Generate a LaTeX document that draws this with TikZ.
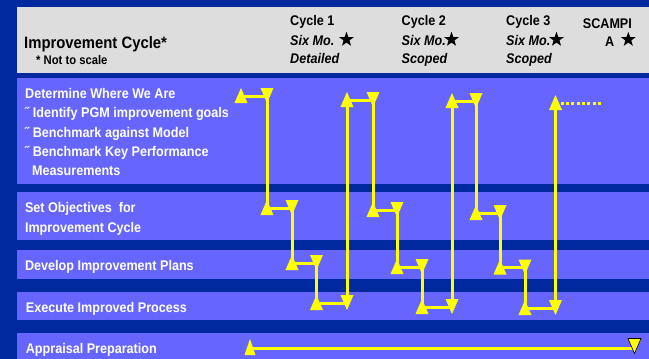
\documentclass[tikz,border=0pt]{standalone}
\usepackage{fontspec}
\setmainfont{Liberation Sans}[FakeStretch=0.9]
\usetikzlibrary{shapes.geometric}
\definecolor{navy}{RGB}{0,41,160}
\definecolor{band}{RGB}{102,102,255}
\definecolor{headgray}{RGB}{221,221,221}
\definecolor{flow}{RGB}{255,255,0}

\begin{document}
\begin{tikzpicture}[x=1pt,y=-1pt,
  rowtext/.style={anchor=base west,inner sep=0,text=white,font=\fontsize{14}{14}\selectfont\bfseries},
  headtext/.style={anchor=base west,inner sep=0,text=black,font=\fontsize{14}{14}\selectfont\bfseries},
  headital/.style={headtext,font=\fontsize{14}{14}\selectfont\bfseries\itshape},
  cyclestar/.style={star,star points=5,star point ratio=2.5,minimum size=15.5,inner sep=0,fill=black,draw=none},
  flowline/.style={draw=flow,line width=3,line join=miter},
  uptri/.pic={\fill[flow] (0,-8) -- (6.5,7) -- (-6.5,7) -- cycle;},
  dntri/.pic={\fill[flow] (0,7) -- (6.5,-8) -- (-6.5,-8) -- cycle;},
]
\useasboundingbox (0,0) rectangle (649,359);

% background, header and row bands
\fill[navy] (0,0) rectangle (649,359);
\fill[headgray] (17,7) rectangle (649,73);
\fill[band] (17,78) rectangle (649,184);
\fill[band] (17,192) rectangle (649,240);
\fill[band] (17,250) rectangle (649,279);
\fill[band] (17,292) rectangle (649,320);
\fill[band] (17,333) rectangle (649,359);

% header texts
\node[headtext,font=\fontsize{16.5}{16.5}\selectfont\bfseries] (title) at (24,48) {Improvement Cycle*};
\node[headtext,font=\fontsize{12.5}{12.5}\selectfont\bfseries] (note) at (36,64) {* Not to scale};

\node[headtext] (cyc1) at (290,25) {Cycle 1};
\node[headital] (len1) at (290,45) {Six Mo.};
\node[headital] (kind1) at (290,63) {Detailed};
\node[cyclestar] (star1) at (346.5,39.5) {};

\node[headtext] (cyc2) at (401.5,25) {Cycle 2};
\node[headital] (len2) at (401.5,45) {Six Mo.};
\node[headital] (kind2) at (401.5,63) {Scoped};
\node[cyclestar] (star2) at (451.5,39.5) {};

\node[headtext] (cyc3) at (506,25) {Cycle 3};
\node[headital] (len3) at (506,45) {Six Mo.};
\node[headital] (kind3) at (506,63) {Scoped};
\node[cyclestar] (star3) at (556.5,39.5) {};

\node[headtext] (scampi) at (582.7,28.3) {SCAMPI};
\node[headtext] (scampiA) at (605,46.7) {A};
\node[cyclestar] (star4) at (628.3,39.5) {};

% row labels
\node[rowtext] (r1a) at (25,98.3) {Determine Where We Are};
\node[rowtext] (r1b) at (25,117.7) {˝ Identify PGM improvement goals};
\node[rowtext] (r1c) at (25,137.1) {˝ Benchmark against Model};
\node[rowtext] (r1d) at (25,156.5) {˝ Benchmark Key Performance};
\node[rowtext] (r1e) at (32,175.8) {Measurements};
\node[rowtext] (r2a) at (24.8,212.5) {Set Objectives~ for};
\node[rowtext] (r2b) at (24.8,232.5) {Improvement Cycle};
\node[rowtext] (r3) at (24.8,270.5) {Develop Improvement Plans};
\node[rowtext] (r4) at (25.7,312) {Execute Improved Process};
\node[rowtext] (r5) at (25.7,353) {Appraisal Preparation};

% staircase of the three cycles
\coordinate (c1u1) at (241,96);    \coordinate (c1d1) at (267,96);
\coordinate (c1u2) at (267,208);   \coordinate (c1d2) at (292,208);
\coordinate (c1u3) at (292,263);   \coordinate (c1d3) at (316.5,263);
\coordinate (c1u4) at (316.5,303); \coordinate (c1d4) at (347,303);
\coordinate (c2u1) at (347,100);   \coordinate (c2d1) at (373,100);
\coordinate (c2u2) at (373,210);   \coordinate (c2d2) at (397,210);
\coordinate (c2u3) at (397,267);   \coordinate (c2d3) at (422,267);
\coordinate (c2u4) at (422,307);   \coordinate (c2d4) at (452,307);
\coordinate (c3u1) at (452,101);   \coordinate (c3d1) at (476,101);
\coordinate (c3u2) at (476,213);   \coordinate (c3d2) at (500,213);
\coordinate (c3u3) at (500,267.5); \coordinate (c3d3) at (525,267.5);
\coordinate (c3u4) at (525,308);   \coordinate (c3d4) at (555.5,308);
\coordinate (c4u1) at (555.5,103); \coordinate (c4end) at (601,103);

\draw[flowline] (c1u1) -- (c1d1) -- (c1u2) -- (c1d2) -- (c1u3) -- (c1d3) -- (c1u4) -- (c1d4)
  -- (c2u1) -- (c2d1) -- (c2u2) -- (c2d2) -- (c2u3) -- (c2d3) -- (c2u4) -- (c2d4)
  -- (c3u1) -- (c3d1) -- (c3u2) -- (c3d2) -- (c3u3) -- (c3d3) -- (c3u4) -- (c3d4)
  -- (c4u1);
\draw[draw=flow,line width=3,dash pattern=on 3 off 2.3] (c4u1) -- (c4end);

\foreach \c in {1,2,3}{
  \foreach \l in {1,2,3,4}{
    \pic at (c\c u\l) {uptri};
    \pic at (c\c d\l) {dntri};
  }
}
\pic at (c4u1) {uptri};

% appraisal preparation span
\coordinate (apu) at (250,348);
\coordinate (apd) at (634.5,348);
\draw[flowline] (apu) -- (apd);
\fill[flow] (apu) ++(0,-9) -- ++(5.5,16) -- ++(-11,0) -- cycle;
\filldraw[fill=flow,draw=black,line width=0.6] (apd) ++(0,5.5) -- ++(6.5,-15) -- ++(-13,0) -- cycle;
\end{tikzpicture}
\end{document}
